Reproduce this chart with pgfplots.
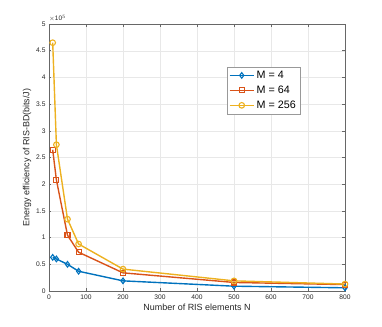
\documentclass[border=0pt]{standalone}
\usepackage{fontspec}
\setmainfont{Liberation Sans}
\usepackage{pgfplots}
\pgfplotsset{compat=1.18}
\definecolor{mb}{rgb}{0,0.447,0.741}
\definecolor{mo}{rgb}{0.85,0.325,0.098}
\definecolor{my}{rgb}{0.929,0.694,0.125}
\definecolor{ax}{rgb}{0.15,0.15,0.15}
\begin{document}
\begin{tikzpicture}
\useasboundingbox (-49bp,-36bp) rectangle (333bp,291bp);
\begin{axis}[
  scale only axis, width=296bp, height=267bp,
  xmin=0, xmax=800, ymin=0, ymax=5,
  xtick={0,100,...,800}, ytick={0,0.5,...,5},
  yticklabels={0,0.5,1,1.5,2,2.5,3,3.5,4,4.5,5},
  grid=major, grid style={gray!18, line width=0.4pt},
  axis line style={ax!70, line width=0.5pt},
  tick style={ax!70, line width=0.5pt},
  tick align=inside, major tick length=2.5bp,
  tick label style={font=\fontsize{6.7}{8}\selectfont, text=ax},
  /pgf/number format/assume math mode=true,
  xlabel={Number of RIS elements N},
  ylabel={Energy efficiency of RIS-BD(bits/J)},
  label style={font=\fontsize{9}{10}\selectfont, text=ax},
  xlabel style={yshift=2bp},
  ylabel style={yshift=-2bp},
  legend style={at={(0.60,0.84)}, anchor=north west, draw=gray!80, line width=0.5pt,
    font=\fontsize{10.8}{12}\selectfont, row sep=2bp, inner xsep=2bp, inner ysep=2bp},
  legend cell align=left,
  legend image code/.code={
    \draw[mark repeat=2,mark phase=2] plot coordinates {(0cm,0cm) (0.43cm,0cm) (0.86cm,0cm)};
  },
  every axis plot/.append style={line width=1.4pt, mark size=2.8bp, mark options={solid, line width=1.1pt, fill=white}},
  clip=false,
]
\addplot[mb, mark=diamond] coordinates {(10,0.63) (20,0.60) (50,0.50) (80,0.37) (200,0.19) (500,0.09) (800,0.06)};
\addlegendentry{M = 4}
\addplot[mo, mark=square, mark size=2.5bp] coordinates {(10,2.645) (20,2.08) (50,1.045) (80,0.726) (200,0.34) (500,0.16) (800,0.12)};
\addlegendentry{M = 64}
\addplot[my, mark=o] coordinates {(10,4.65) (20,2.74) (50,1.345) (80,0.88) (200,0.41) (500,0.19) (800,0.13)};
\addlegendentry{M = 256}
\node[anchor=south west, font=\fontsize{6.5}{7}\selectfont, text=ax, inner sep=0pt] at (axis cs:0,5.04) {$\times$10$^{5}$};
\end{axis}
\end{tikzpicture}
\end{document}
